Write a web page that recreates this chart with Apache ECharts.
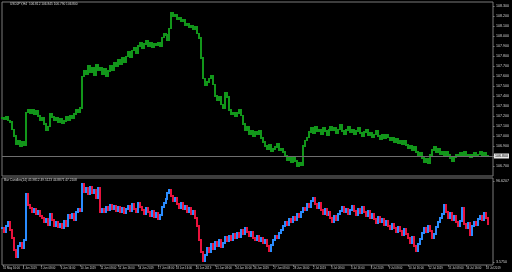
<!DOCTYPE html>
<html><head><meta charset="utf-8">
<script src="https://cdn.jsdelivr.net/npm/echarts@6/dist/echarts.min.js"></script>
<style>html,body{margin:0;padding:0;background:#000}#c{width:512px;height:272px}</style>
</head><body><div id="c"></div>
<script>
// ---- DATA ----
const priceClose = [
107.18,107.17,107.19,107.16,107.14,107.07,107.00,106.92,106.95,106.90,
106.94,106.91,107.24,107.27,107.23,107.26,107.22,107.25,107.20,107.16,
107.18,107.12,107.06,107.10,107.22,107.19,107.16,107.18,107.14,107.17,
107.13,107.15,107.19,107.16,107.21,107.18,107.22,107.26,107.24,107.28,
107.60,107.66,107.62,107.70,107.64,107.68,107.61,107.72,107.66,107.69,
107.62,107.67,107.60,107.65,107.71,107.66,107.74,107.70,107.76,107.72,
107.78,107.74,107.80,107.84,107.79,107.86,107.89,107.83,107.90,107.93,
107.88,107.92,107.95,107.90,107.93,107.89,107.92,107.91,107.94,107.90,
107.99,108.03,108.01,107.96,108.08,108.24,108.20,108.22,108.17,108.19,
108.15,108.17,108.11,108.13,108.09,108.11,108.07,108.09,108.03,107.98,
107.78,107.58,107.51,107.54,107.58,107.61,107.52,107.40,107.36,107.39,
107.32,107.28,107.43,107.39,107.26,107.22,107.24,107.20,107.23,107.26,
107.21,107.12,107.06,107.09,107.02,107.05,107.00,107.04,107.02,107.05,
106.98,106.94,106.90,106.87,106.91,106.85,106.87,106.89,106.92,106.86,
106.88,106.84,106.80,106.76,106.79,106.74,106.78,106.75,106.70,106.73,
106.71,106.90,106.96,106.99,107.04,107.08,107.03,107.09,107.05,107.07,
107.02,107.08,107.05,107.01,107.06,107.10,107.06,107.08,107.03,107.07,
107.11,107.05,107.02,107.06,107.09,107.04,107.07,107.02,107.05,107.08,
107.03,107.00,107.04,107.06,107.01,107.03,106.99,107.02,107.05,107.00,
106.97,107.01,106.98,107.02,106.99,106.96,106.98,106.94,106.97,106.93,
106.95,106.92,106.96,106.91,106.88,106.90,106.86,106.89,106.84,106.80,
106.83,106.78,106.74,106.77,106.73,106.81,106.86,106.89,106.84,106.87,
106.82,106.85,106.80,106.84,106.81,106.78,106.75,106.79,106.82,106.80,
106.83,106.81,106.84,106.80,106.82,106.79,106.81,106.83,106.80,106.82,
106.84,106.81,106.83,106.80,106.80
];
const oscValue = [
42.6,38.0,44.9,49.5,40.3,31.1,17.3,9.2,21.9,25.3,
19.6,28.8,81.7,69.0,65.6,61.0,64.4,58.7,62.1,56.4,
54.1,49.5,52.9,46.0,58.7,51.8,44.9,49.5,43.7,47.2,
42.6,50.6,44.9,57.5,54.1,58.7,51.8,61.0,64.4,62.1,
93.2,84.0,88.6,81.7,89.7,82.8,86.3,77.1,88.6,61.0,
64.4,61.0,66.7,63.3,69.0,64.4,67.9,62.1,66.7,61.0,
65.6,59.8,64.4,67.9,62.1,70.2,64.4,61.0,71.3,66.7,
63.3,58.7,65.6,61.0,56.4,62.1,55.2,59.8,52.9,57.5,
66.7,71.3,75.9,82.8,86.3,79.4,73.6,77.1,70.2,65.6,
71.3,64.4,67.9,61.0,65.6,58.7,62.1,54.1,44.9,28.8,
15.0,4.6,11.5,19.6,15.0,24.2,18.4,26.5,21.9,28.8,
20.7,25.3,32.2,27.6,33.4,28.8,35.7,31.1,36.8,32.2,
40.3,35.7,42.6,38.0,33.4,38.0,31.1,28.8,33.4,27.6,
31.1,25.3,28.8,21.9,16.1,23.0,28.8,33.4,31.1,36.8,
40.3,44.9,49.5,46.0,52.9,49.5,55.2,51.8,58.7,55.2,
61.0,65.6,63.3,70.2,66.7,73.6,77.1,70.2,65.6,71.3,
63.3,58.7,64.4,57.5,61.0,54.1,49.5,56.4,51.8,58.7,
62.1,66.7,61.0,64.4,58.7,63.3,67.9,62.1,57.5,64.4,
59.8,66.7,61.0,56.4,62.1,54.1,58.7,52.9,48.3,55.2,
49.5,52.9,46.0,50.6,44.9,41.4,47.2,42.6,38.0,43.7,
39.1,34.5,41.4,35.7,31.1,25.3,32.2,21.9,16.1,24.2,
29.9,36.8,42.6,38.0,44.9,39.1,31.1,35.7,43.7,49.5,
54.1,58.7,69.0,61.0,54.1,59.8,51.8,56.4,49.5,44.9,
50.6,65.6,47.2,42.6,48.3,34.5,44.9,49.5,46.0,52.9,
56.4,51.8,59.8,54.1,47.2
];
const timeLabels = ["31 May 16:00","4 Jun 2019","5 Jun 08:00","6 Jun 16:00","10 Jun 2019","11 Jun 08:00",
"12 Jun 16:00","14 Jun 2019","17 Jun 08:00","18 Jun 16:00","20 Jun 2019","21 Jun 08:00","24 Jun 16:00",
"26 Jun 2019","27 Jun 08:00","28 Jun 16:00","2 Jul 2019","3 Jul 08:00","4 Jul 16:00","8 Jul 2019",
"9 Jul 08:00","10 Jul 16:00","12 Jul 2019","15 Jul 08:00","16 Jul 16:00","18 Jul 2019"];
const barsPerTimeLabel = 9.72;
const oscTicks = [3.575, 96.6207];
const mainTitle = "USDJPY,H4  106.812 106.845 106.790 106.800";
const oscTitle = "Bar Candles(14) 45.9812 49.5123 44.8871 47.2108";
const bidPrice = priceClose[priceClose.length - 1];

// ---- BUILD ----
function toBars(arr){
  return arr.map((c,i)=>{ const o = i ? arr[i-1] : c; return [i, o, c]; });
}
const n = priceClose.length;
const cats = [];
for (let i = 0; i < n + 2; i++) cats.push(String(i));
const labelIdx = timeLabels.map((_, k) => Math.round(k * barsPerTimeLabel));

const txt = '#d4d4d4', border = '#7a7a7a', ff = 'Liberation Sans, Arial, sans-serif';
const green = '#12961a', blue = '#2a8cff', red = '#e8123c';

function barRenderer(pxWidth, upColor, downColor){
  return function(params, api){
    const o = api.value(1), c = api.value(2);
    const top = api.coord([api.value(0), Math.max(o, c)]);
    const bot = api.coord([api.value(0), Math.min(o, c)]);
    const x = Math.floor(top[0] - pxWidth / 2);
    const y = Math.floor(top[1]);
    const h = Math.max(1, Math.round(bot[1]) - y + 1);
    return {type: 'rect', shape: {x: x, y: y, width: pxWidth, height: h},
            style: {fill: c >= o ? upColor : downColor}};
  };
}

const chart = echarts.init(document.getElementById('c'), null, {renderer: 'canvas'});
chart.setOption({
  backgroundColor: '#000',
  animation: false,
  title: [
    {text: mainTitle, left: 10, top: 3, padding: 0, textStyle: {color: txt, fontSize: 3.2, fontWeight: 'normal', fontFamily: ff}},
    {text: oscTitle, left: 4, top: 179, padding: 0, textStyle: {color: txt, fontSize: 3.2, fontWeight: 'normal', fontFamily: ff}}
  ],
  grid: [
    {left: 2, top: 2, width: 494, height: 174, show: true, borderColor: border, borderWidth: 1, backgroundColor: '#000'},
    {left: 2, top: 178, width: 494, height: 87, show: true, borderColor: border, borderWidth: 1, backgroundColor: 'transparent'}
  ],
  xAxis: [
    {type: 'category', gridIndex: 0, data: cats, boundaryGap: true, axisLine: {show: false}, axisTick: {show: false}, axisLabel: {show: false}, splitLine: {show: false}},
    {type: 'category', gridIndex: 1, data: cats, boundaryGap: true, axisLine: {show: false},
     axisTick: {show: true, alignWithLabel: true, length: 1.5, lineStyle: {color: border}, interval: (i) => labelIdx.includes(i)},
     axisLabel: {show: true, color: txt, fontSize: 2.8, fontFamily: ff, align: 'left', margin: 1.5,
       interval: (i) => labelIdx.includes(i),
       formatter: (v, i) => { const k = labelIdx.indexOf(Number(v)); return k >= 0 ? timeLabels[k] : ''; }},
     splitLine: {show: false}}
  ],
  yAxis: [
    {type: 'value', gridIndex: 0, position: 'right', min: 106.6, max: 108.34, interval: 0.1,
     axisLine: {show: false}, splitLine: {show: false},
     axisTick: {show: true, length: 1.5, lineStyle: {color: border}},
     axisLabel: {show: true, color: txt, fontSize: 3.6, fontFamily: ff, margin: 3, showMinLabel: false, showMaxLabel: false,
       formatter: (v) => v.toFixed(3)}},
    {type: 'value', gridIndex: 1, position: 'right', min: 0, max: 100,
     axisLine: {show: false}, splitLine: {show: false},
     axisTick: {show: true, length: 1.5, lineStyle: {color: border}, customValues: oscTicks},
     axisLabel: {show: true, color: txt, fontSize: 3.6, fontFamily: ff, margin: 3, customValues: oscTicks,
       formatter: (v) => v.toFixed(4)}}
  ],
  series: [
    {type: 'custom', xAxisIndex: 0, yAxisIndex: 0, data: toBars(priceClose),
     encode: {x: 0, y: [1, 2]}, renderItem: barRenderer(2, green, green), silent: true,
     markLine: {silent: true, symbol: 'none', animation: false,
       lineStyle: {color: '#6e6e6e', width: 1, type: 'solid'},
       label: {show: true, position: 'end', distance: 1, formatter: () => bidPrice.toFixed(3),
         backgroundColor: '#e8e8e8', color: '#000', fontSize: 3.6, fontFamily: ff, padding: [0.5, 1]},
       data: [{yAxis: bidPrice}]}},
    {type: 'custom', xAxisIndex: 1, yAxisIndex: 1, data: toBars(oscValue),
     encode: {x: 0, y: [1, 2]}, renderItem: barRenderer(2, blue, red), silent: true}
  ]
});
</script>
</body></html>
